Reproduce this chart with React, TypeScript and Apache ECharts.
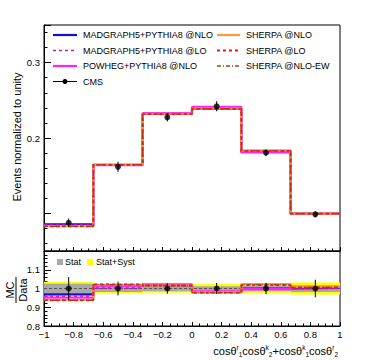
import React, { useEffect, useRef } from "react";
import * as echarts from "echarts";

document.body.style.margin = "0";

// ---------- data ----------
const binEdges = [-1, -2 / 3, -1 / 3, 0, 1 / 3, 2 / 3, 1];
const binCenters = [-5 / 6, -0.5, -1 / 6, 1 / 6, 0.5, 5 / 6];

const cmsValues = [0.0875, 0.1617, 0.2275, 0.2421, 0.1804, 0.0987];
const cmsErrors = [0.0055, 0.0067, 0.0055, 0.0067, 0.0045, 0.004];

const mgNlo = [0.0853, 0.1645, 0.232, 0.2385, 0.1815, 0.0995];
const mgLo = [0.0845, 0.164, 0.2322, 0.2388, 0.1818, 0.0993];
const powheg = [0.0835, 0.164, 0.233, 0.2413, 0.1808, 0.0993];
const sherpaNlo = [0.083, 0.1645, 0.2322, 0.239, 0.1835, 0.0995];
const sherpaLo = [0.0828, 0.1643, 0.2318, 0.2387, 0.183, 0.0995];
const sherpaEw = [0.0828, 0.1645, 0.232, 0.2388, 0.1832, 0.0995];

const ratioMgNlo = [0.969, 1.018, 1.016, 0.98, 1.0, 1.003];
const ratioMgLo = [0.958, 1.002, 1.018, 0.982, 1.0, 1.004];
const ratioPowheg = [0.951, 1.015, 1.022, 0.985, 0.997, 1.006];
const ratioSherpaNlo = [0.94, 1.02, 1.016, 0.98, 1.023, 1.008];
const ratioSherpaLo = [0.937, 1.022, 1.016, 0.978, 1.018, 1.005];
const ratioSherpaEw = [0.937, 1.02, 1.016, 0.978, 1.02, 1.007];

const statHalf = [0.025, 0.018, 0.015, 0.012, 0.014, 0.018];
const totalHalf = [0.036, 0.027, 0.023, 0.024, 0.027, 0.032];
const ratioDataErr = [0.061, 0.037, 0.028, 0.029, 0.03, 0.047];
const ratioCenter = 1;

const topYLabels = ["0.2", "0.3"];
const legendNames = [
  "MADGRAPH5+PYTHIA8 @NLO",
  "MADGRAPH5+PYTHIA8 @LO",
  "POWHEG+PYTHIA8 @NLO",
  "CMS",
  "SHERPA @NLO",
  "SHERPA @LO",
  "SHERPA @NLO-EW",
];
const bandNames = ["Stat", "Stat+Syst"];
const yTitle = "Events normalized to unity";

// ---------- styles ----------
const FONT = "Liberation Sans, Arial, Helvetica, sans-serif";
const mcStyles = [
  { color: "#1010d0", width: 2.2, type: "solid" as any },
  { color: "#b020b0", width: 1.6, type: [3, 3] as any },
  { color: "#ff20ff", width: 2.2, type: "solid" as any },
  { color: "#ff9a3c", width: 2.2, type: "solid" as any },
  { color: "#ff1010", width: 1.8, type: [3, 3] as any },
  { color: "#a0441a", width: 1.4, type: [4, 2, 1, 2] as any },
];

function steps(vals: number[]) {
  const pts: number[][] = [];
  vals.forEach((v, i) => {
    pts.push([binEdges[i], v]);
    pts.push([binEdges[i + 1], v]);
  });
  return pts;
}

const errBarRender = (params: any, api: any) => {
  const x = api.value(0);
  const y = api.value(1);
  const e = api.value(2);
  const a = api.coord([x, y + e]);
  const b = api.coord([x, y - e]);
  return {
    type: "line",
    shape: { x1: a[0], y1: a[1], x2: b[0], y2: b[1] },
    style: { stroke: "#000", lineWidth: 1 },
  };
};

const bandRender = (fill: string) => (params: any, api: any) => {
  const lo = api.value(0);
  const hi = api.value(1);
  const c = api.value(2);
  const h = api.value(3);
  const p1 = api.coord([lo, c + h]);
  const p2 = api.coord([hi, c - h]);
  return {
    type: "rect",
    shape: { x: p1[0], y: p1[1], width: p2[0] - p1[0], height: p2[1] - p1[1] },
    style: { fill },
  };
};

const fmtMinus = (v: number) => {
  const s = String(Math.round(v * 10) / 10);
  return s.replace("-", "\u2212");
};

export default function App() {
  const ref = useRef<HTMLDivElement>(null);
  useEffect(() => {
    if (!ref.current) return;
    const chart = echarts.init(ref.current, null, { renderer: "svg" });

    const L = 44;
    const R = 30;
    const axisCommon = {
      axisLine: { show: true, onZero: false, lineStyle: { color: "#000", width: 1 } },
      splitLine: { show: false },
      axisLabel: { color: "#000", fontFamily: FONT, fontSize: 9.5 },
    };

    const topSeriesVals = [mgNlo, mgLo, powheg, sherpaNlo, sherpaLo, sherpaEw];
    const ratioSeriesVals = [
      ratioMgNlo,
      ratioMgLo,
      ratioPowheg,
      ratioSherpaNlo,
      ratioSherpaLo,
      ratioSherpaEw,
    ];

    const series: any[] = [];
    topSeriesVals.forEach((vals, k) => {
      series.push({
        type: "line",
        xAxisIndex: 0,
        yAxisIndex: 0,
        data: steps(vals),
        showSymbol: false,
        lineStyle: mcStyles[k],
        z: 2 + k,
      });
    });
    series.push({
      type: "custom",
      xAxisIndex: 0,
      yAxisIndex: 0,
      renderItem: errBarRender,
      data: binCenters.map((x, i) => [x, cmsValues[i], cmsErrors[i]]),
      z: 20,
    });
    series.push({
      type: "scatter",
      xAxisIndex: 0,
      yAxisIndex: 0,
      data: binCenters.map((x, i) => [x, cmsValues[i]]),
      symbolSize: 6,
      itemStyle: { color: "#000" },
      z: 21,
    });

    // ratio panel
    series.push({
      type: "custom",
      xAxisIndex: 1,
      yAxisIndex: 1,
      renderItem: bandRender("#ffff00"),
      data: totalHalf.map((h, i) => [binEdges[i], binEdges[i + 1], ratioCenter, h]),
      z: 1,
    });
    series.push({
      type: "custom",
      xAxisIndex: 1,
      yAxisIndex: 1,
      renderItem: bandRender("#a8a8a8"),
      data: statHalf.map((h, i) => [binEdges[i], binEdges[i + 1], ratioCenter, h]),
      z: 2,
    });
    series.push({
      type: "line",
      xAxisIndex: 1,
      yAxisIndex: 1,
      data: [
        [binEdges[0], ratioCenter],
        [binEdges[binEdges.length - 1], ratioCenter],
      ],
      showSymbol: false,
      lineStyle: { color: "#555", width: 1, type: [3, 2] },
      z: 3,
    });
    ratioSeriesVals.forEach((vals, k) => {
      series.push({
        type: "line",
        xAxisIndex: 1,
        yAxisIndex: 1,
        data: steps(vals),
        showSymbol: false,
        lineStyle: mcStyles[k],
        z: 4 + k,
      });
    });
    series.push({
      type: "custom",
      xAxisIndex: 1,
      yAxisIndex: 1,
      renderItem: errBarRender,
      data: binCenters.map((x, i) => [x, ratioCenter, ratioDataErr[i]]),
      z: 20,
    });
    series.push({
      type: "scatter",
      xAxisIndex: 1,
      yAxisIndex: 1,
      data: binCenters.map((x) => [x, ratioCenter]),
      symbolSize: 6,
      itemStyle: { color: "#000" },
      z: 21,
    });

    // legend graphics
    const legendGraphics: any[] = [];
    const rowsY = [35, 50.5, 66, 81.5];
    const leftCol = { x1: 53, x2: 77, tx: 83 };
    const rightCol = { x1: 217, x2: 240, tx: 246 };
    const legendMap = [
      { col: leftCol, row: 0, style: 0 },
      { col: leftCol, row: 1, style: 1 },
      { col: leftCol, row: 2, style: 2 },
      { col: leftCol, row: 3, style: -1 },
      { col: rightCol, row: 0, style: 3 },
      { col: rightCol, row: 1, style: 4 },
      { col: rightCol, row: 2, style: 5 },
    ];
    legendMap.forEach((m, i) => {
      const y = rowsY[m.row];
      if (m.style >= 0) {
        const s = mcStyles[m.style];
        legendGraphics.push({
          type: "line",
          shape: { x1: m.col.x1, y1: y, x2: m.col.x2, y2: y },
          style: {
            stroke: s.color,
            lineWidth: s.width,
            lineDash: s.type === "solid" ? null : s.type,
          },
        });
      } else {
        legendGraphics.push({
          type: "line",
          shape: { x1: m.col.x1, y1: y, x2: m.col.x2, y2: y },
          style: { stroke: "#000", lineWidth: 1 },
        });
        legendGraphics.push({
          type: "circle",
          shape: { cx: (m.col.x1 + m.col.x2) / 2, cy: y, r: 2.5 },
          style: { fill: "#000" },
        });
      }
      legendGraphics.push({
        type: "text",
        x: m.col.tx,
        y,
        style: {
          text: legendNames[i],
          fill: "#000",
          font: `9px ${FONT}`,
          verticalAlign: "middle",
          align: "left",
        },
      });
    });

    const graphic: any[] = [
      ...legendGraphics,
      {
        type: "text",
        x: 17,
        y: 137,
        rotation: Math.PI / 2,
        style: {
          text: yTitle,
          fill: "#000",
          font: `11px ${FONT}`,
          align: "center",
          verticalAlign: "middle",
        },
      },
      {
        type: "group",
        x: 16,
        y: 290,
        rotation: Math.PI / 2,
        children: [
          {
            type: "text",
            x: 0,
            y: -0.5,
            style: {
              text: "MC",
              fill: "#000",
              font: `11px ${FONT}`,
              align: "center",
              verticalAlign: "bottom",
            },
          },
          {
            type: "line",
            shape: { x1: -13, y1: 0, x2: 13, y2: 0 },
            style: { stroke: "#000", lineWidth: 1 },
          },
          {
            type: "text",
            x: 0,
            y: 1,
            style: {
              text: "Data",
              fill: "#000",
              font: `11px ${FONT}`,
              align: "center",
              verticalAlign: "top",
            },
          },
        ],
      },
      {
        type: "rect",
        shape: { x: 57, y: 259, width: 6, height: 6 },
        style: { fill: "#a8a8a8" },
      },
      {
        type: "text",
        x: 65,
        y: 262,
        style: {
          text: bandNames[0],
          fill: "#000",
          font: `9px ${FONT}`,
          verticalAlign: "middle",
        },
      },
      {
        type: "rect",
        shape: { x: 87, y: 259, width: 6, height: 6 },
        style: { fill: "#ffff00" },
      },
      {
        type: "text",
        x: 96,
        y: 262,
        style: {
          text: bandNames[1],
          fill: "#000",
          font: `9px ${FONT}`,
          verticalAlign: "middle",
        },
      },
      {
        type: "text",
        x: 338,
        y: 351,
        style: {
          text: "cosθ{p|r}{b|1}cosθ{p|k}{b|2}+cosθ{p|k}{b|1}cosθ{p|r}{b|2}",
          fill: "#000",
          font: `11px ${FONT}`,
          align: "right",
          verticalAlign: "middle",
          lineHeight: 14,
          rich: {
            p: { fontSize: 6.5, fontFamily: FONT, verticalAlign: "top", lineHeight: 8, fill: "#000" },
            b: { fontSize: 6.5, fontFamily: FONT, verticalAlign: "bottom", lineHeight: 8, fill: "#000" },
          },
        },
      },
    ];

    chart.setOption({
      animation: false,
      grid: [
        { left: L, right: R, top: 25, height: 226, show: true, borderColor: "#000", borderWidth: 1, backgroundColor: "transparent" },
        { left: L, right: R, top: 251, height: 75, show: true, borderColor: "#000", borderWidth: 1, backgroundColor: "transparent" },
      ],
      xAxis: [
        {
          type: "value",
          gridIndex: 0,
          min: -1,
          max: 1,
          interval: 0.2,
          ...axisCommon,
          axisLabel: { show: false },
          axisTick: { inside: true, length: 4, lineStyle: { color: "#000" } },
          minorTick: { show: true, splitNumber: 4, length: 2.5, lineStyle: { color: "#000" } },
        },
        {
          type: "value",
          gridIndex: 1,
          min: -1,
          max: 1,
          interval: 0.2,
          ...axisCommon,
          axisLabel: { ...axisCommon.axisLabel, margin: 3, formatter: fmtMinus },
          axisTick: { inside: true, length: 4, lineStyle: { color: "#000" } },
          minorTick: { show: true, splitNumber: 4, length: 2.5, lineStyle: { color: "#000" } },
        },
      ],
      yAxis: [
        {
          type: "value",
          gridIndex: 0,
          min: 0.05,
          max: 0.35,
          splitNumber: 3,
          ...axisCommon,
          axisLabel: {
            ...axisCommon.axisLabel,
            margin: 4,
            showMinLabel: false,
            showMaxLabel: false,
            formatter: (v: number) => {
              const s = String(Math.round(v * 100) / 100);
              return topYLabels.indexOf(s) >= 0 ? s : "";
            },
          },
          axisTick: { inside: true, length: 7, lineStyle: { color: "#000" } },
          minorTick: { show: true, splitNumber: 5, length: 3.5, lineStyle: { color: "#000" } },
        },
        {
          type: "value",
          gridIndex: 1,
          min: 0.8,
          max: 1.2,
          interval: 0.1,
          ...axisCommon,
          axisLabel: {
            ...axisCommon.axisLabel,
            margin: 4,
            showMaxLabel: false,
            formatter: (v: number) => String(Math.round(v * 10) / 10),
          },
          axisTick: { inside: true, length: 7, lineStyle: { color: "#000" } },
          minorTick: { show: true, splitNumber: 5, length: 3.5, lineStyle: { color: "#000" } },
        },
      ],
      series,
      graphic,
    });
    return () => chart.dispose();
  }, []);
  return <div ref={ref} style={{ width: 370, height: 360 }} />;
}
